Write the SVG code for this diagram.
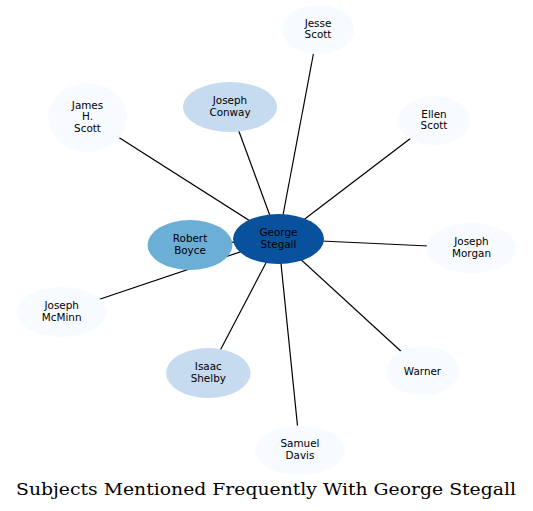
<svg xmlns="http://www.w3.org/2000/svg" width="533" height="511" viewBox="0 0 533 511">
<style>
.edge{stroke:#000;stroke-width:1.2;fill:none}
.n text{font-family:"DejaVu Sans",sans-serif;font-size:10.4px;fill:#000;text-anchor:middle}
.l0{fill:#f7fbff}
.l1{fill:#c6dbef}
.l2{fill:#6baed6}
.l3{fill:#08519c}
.title{font-family:"DejaVu Serif",serif;font-size:17px;fill:#000;text-anchor:middle}
</style>
<rect width="533" height="511" fill="#fff"/>
<g id="edges">
<line class="edge" x1="278.5" y1="239" x2="318" y2="29.5"/>
<line class="edge" x1="278.5" y1="239" x2="230" y2="107"/>
<line class="edge" x1="278.5" y1="239" x2="87.5" y2="117.5"/>
<line class="edge" x1="278.5" y1="239" x2="434" y2="120.5"/>
<line class="edge" x1="278.5" y1="239" x2="471.5" y2="248"/>
<line class="edge" x1="278.5" y1="239" x2="190" y2="245"/>
<line class="edge" x1="278.5" y1="239" x2="61.7" y2="312"/>
<line class="edge" x1="278.5" y1="239" x2="208.3" y2="373"/>
<line class="edge" x1="278.5" y1="239" x2="422.5" y2="371"/>
<line class="edge" x1="278.5" y1="239" x2="300" y2="450.3"/>
</g>
<g id="jesse-scott" class="n"><ellipse class="l0" cx="318" cy="29.5" rx="36" ry="24.5"/><text x="318" y="26.5">Jesse</text><text x="318" y="38.1">Scott</text></g>
<g id="joseph-conway" class="n"><ellipse class="l1" cx="230" cy="107" rx="47" ry="25"/><text x="230" y="104">Joseph</text><text x="230" y="115.6">Conway</text></g>
<g id="james-h-scott" class="n"><ellipse class="l0" cx="87.5" cy="117.5" rx="39.5" ry="34.5"/><text x="87.5" y="109">James</text><text x="87.5" y="120.4">H.</text><text x="87.5" y="131.8">Scott</text></g>
<g id="ellen-scott" class="n"><ellipse class="l0" cx="434" cy="120.5" rx="36" ry="24.5"/><text x="434" y="117.5">Ellen</text><text x="434" y="129.1">Scott</text></g>
<g id="joseph-morgan" class="n"><ellipse class="l0" cx="471.5" cy="248" rx="45" ry="25"/><text x="471.5" y="245">Joseph</text><text x="471.5" y="256.6">Morgan</text></g>
<g id="robert-boyce" class="n"><ellipse class="l2" cx="190" cy="245" rx="42.5" ry="25"/><text x="190" y="242">Robert</text><text x="190" y="253.6">Boyce</text></g>
<g id="george-stegall" class="n"><ellipse class="l3" cx="278.5" cy="239" rx="45.5" ry="25"/><text x="278.5" y="236">George</text><text x="278.5" y="247.6">Stegall</text></g>
<g id="joseph-mcminn" class="n"><ellipse class="l0" cx="61.7" cy="312" rx="45" ry="25"/><text x="61.7" y="309">Joseph</text><text x="61.7" y="320.6">McMinn</text></g>
<g id="isaac-shelby" class="n"><ellipse class="l1" cx="208.3" cy="373" rx="42.3" ry="25"/><text x="208.3" y="370">Isaac</text><text x="208.3" y="381.6">Shelby</text></g>
<g id="warner" class="n"><ellipse class="l0" cx="422.5" cy="371" rx="36.5" ry="24.5"/><text x="422.5" y="374.5">Warner</text></g>
<g id="samuel-davis" class="n"><ellipse class="l0" cx="300" cy="450.3" rx="45" ry="24.7"/><text x="300" y="447.3">Samuel</text><text x="300" y="458.9">Davis</text></g>
<text class="title" x="266" y="495" textLength="500" lengthAdjust="spacingAndGlyphs">Subjects Mentioned Frequently With George Stegall</text>
</svg>
